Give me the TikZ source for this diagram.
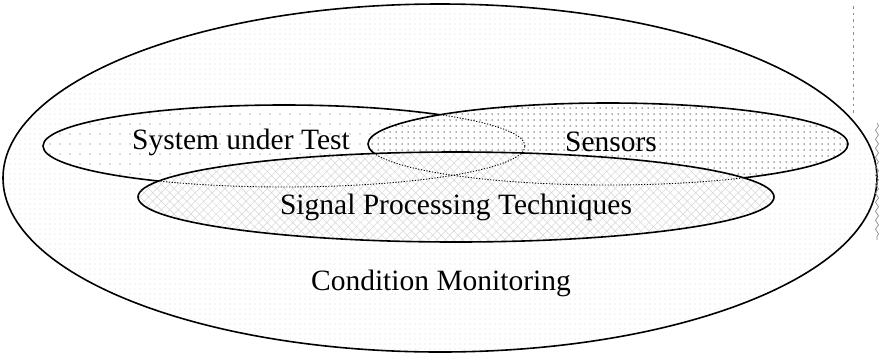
\documentclass[tikz,border=0pt]{standalone}
\usepackage{fontspec}
\setmainfont{Liberation Serif}
\newfontfamily\labelfont{Liberation Serif}
\usetikzlibrary{patterns.meta,decorations.pathmorphing}
\begin{document}
\begin{tikzpicture}[x=1pt,y=-1pt,
  rim/.style={line width=1.6pt},
  hidden/.style={line width=0.9pt, dash pattern=on 1.2pt off 1.6pt},
  lbl/.style={font=\labelfont\fontsize{29.5}{32}\selectfont, inner sep=0pt},
  gridfill/.style={pattern={Dots[distance=5pt,radius=0.4pt]}, pattern color=black!40},
  sparsefill/.style={pattern={Dots[distance=10pt,radius=0.7pt]}, pattern color=black!60},
  densefill/.style={pattern={Dots[distance=6pt,radius=0.75pt]}, pattern color=black!65},
  hatchA/.style={pattern={Lines[angle=45,distance=6pt,line width=0.5pt]}, pattern color=black!16},
  hatchB/.style={pattern={Lines[angle=-45,distance=6pt,line width=0.5pt]}, pattern color=black!16},
  edgemark/.style={black!45, line width=0.7pt}]
\useasboundingbox (0,0) rectangle (882,354);

% Condition monitoring: the enclosing ellipse
\fill[white] (440,178) ellipse [x radius=437pt, y radius=174pt];
\fill[gridfill] (440,178) ellipse [x radius=437pt, y radius=174pt];
\draw[rim] (440,178) ellipse [x radius=437pt, y radius=174pt];

% System under test
\fill[white] (284,146) ellipse [x radius=241pt, y radius=41pt];
\fill[sparsefill] (284,146) ellipse [x radius=241pt, y radius=41pt];
\draw[rim] (284,146) ellipse [x radius=241pt, y radius=41pt];

% Sensors, laid over the system under test
\fill[white] (608,144) ellipse [x radius=240pt, y radius=41pt];
\fill[densefill] (608,144) ellipse [x radius=240pt, y radius=41pt];
\begin{scope}
  \clip (608,144) ellipse [x radius=240pt, y radius=41pt];
  \draw[hidden] (284,146) ellipse [x radius=241pt, y radius=41pt];
\end{scope}
\draw[rim] (608,144) ellipse [x radius=240pt, y radius=41pt];

% Signal processing techniques, laid over both
\fill[white] (456,197) ellipse [x radius=318pt, y radius=45pt];
\fill[hatchA] (456,197) ellipse [x radius=318pt, y radius=45pt];
\fill[hatchB] (456,197) ellipse [x radius=318pt, y radius=45pt];
\begin{scope}
  \clip (456,197) ellipse [x radius=318pt, y radius=45pt];
  \draw[hidden] (284,146) ellipse [x radius=241pt, y radius=41pt];
  \draw[hidden] (608,144) ellipse [x radius=240pt, y radius=41pt];
\end{scope}
\draw[rim] (456,197) ellipse [x radius=318pt, y radius=45pt];

% labels
\node[lbl] (sut) at (241,142) {System under Test};
\node[lbl] (sen) at (611,142) {Sensors};
\node[lbl] (spt) at (456,207) {Signal Processing Techniques};
\node[lbl] (cm)  at (441,283) {Condition Monitoring};

% marks at the right edge
\draw[edgemark, dash pattern=on 2.5pt off 4pt] (853,6) -- (853,114);
\draw[edgemark, decorate, decoration={snake, segment length=9pt, amplitude=1.5pt}] (877,123) -- (877,240);
\end{tikzpicture}
\end{document}
